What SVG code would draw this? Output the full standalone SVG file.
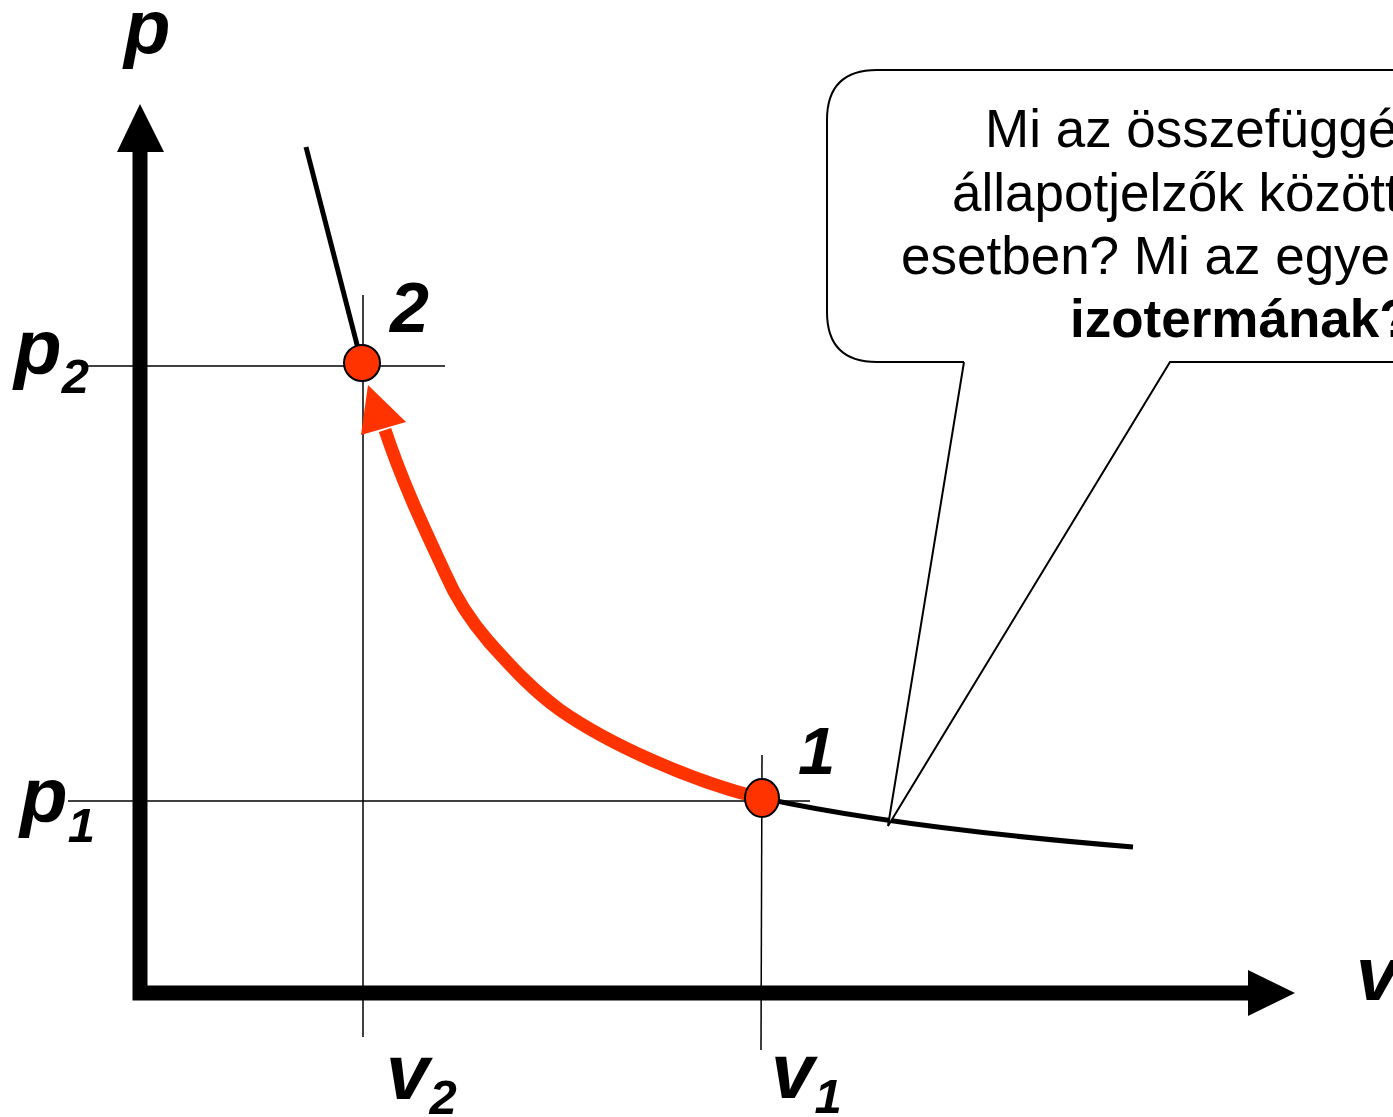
<svg xmlns="http://www.w3.org/2000/svg" width="1393" height="1117" viewBox="0 0 1393 1117">
<style>
.lbl{font-family:"Liberation Sans",Arial,sans-serif;font-weight:bold;font-style:italic;fill:#000}
.txt{font-family:"Liberation Sans",Arial,sans-serif;font-size:53px;fill:#000}
.thin{stroke:#000;stroke-width:1.5;fill:none}
.curve{stroke:#000;stroke-width:5;fill:none}
.pt{fill:#FF3300;stroke:#000;stroke-width:2}
</style>
<rect width="1393" height="1117" fill="#fff"/>
<g id="guides">
<line class="thin" x1="85" y1="366" x2="445" y2="366"/>
<line class="thin" x1="68" y1="801" x2="810" y2="801"/>
<line class="thin" x1="363" y1="295" x2="363" y2="1037"/>
<line class="thin" x1="762" y1="755" x2="761" y2="1050"/>
</g>
<g id="axes">
<path d="M140,150 L140,993 L1250,993" stroke="#000" stroke-width="15" fill="none" stroke-linejoin="miter"/>
<polygon points="140,104 117,152 164,152" fill="#000"/>
<polygon points="1295,993 1248,970 1248,1016" fill="#000"/>
<text class="lbl" x="124" y="53" font-size="76">p</text>
<text class="lbl" x="1356" y="1000" font-size="76">v</text>
</g>
<g id="isotherm">
<line class="curve" x1="306" y1="147" x2="362" y2="364"/>
<path class="curve" d="M762,798 Q900,828 1133,847"/>
</g>
<g id="callout">
<path d="M964,362 L877,362 Q827,362 827,312 L827,120 Q827,70 877,70 L1420,70 L1420,362 L1170,362 L888,826 Z" fill="#fff" stroke="none"/>
<path d="M964,362 L888,826 L1170,362 L1420,362 M964,362 L877,362 Q827,362 827,312 L827,120 Q827,70 877,70 L1420,70" fill="none" stroke="#000" stroke-width="2"/>
<text class="txt" x="985" y="147">Mi az összefüggés</text>
<text class="txt" x="952" y="211">állapotjelzők között</text>
<text class="txt" x="901" y="274">esetben? Mi az egyenlete</text>
<text class="txt" x="1070" y="337" font-weight="bold">izotermának?</text>
</g>
<g id="connectors">
<path d="M756,797 C690,780 610,745 560,710 C530,688 510,665 489,642 C470,620 455,596 445,573 C430,540 405,490 385,430" fill="none" stroke="#FF3300" stroke-width="13"/>
<polygon points="368,385 361,435 406,422" fill="#FF3300"/>
</g>
<g id="point2">
<circle class="pt" cx="362" cy="363" r="18"/>
<text class="lbl" x="390" y="332" font-size="70">2</text>
</g>
<g id="point1">
<ellipse class="pt" cx="762" cy="798" rx="17" ry="19"/>
<text class="lbl" x="798" y="774" font-size="67">1</text>
</g>
<g id="labels">
<text class="lbl" x="14" y="374" font-size="78">p<tspan font-size="49" dy="19">2</tspan></text>
<text class="lbl" x="20" y="822" font-size="78">p<tspan font-size="49" dy="20">1</tspan></text>
<text class="lbl" x="386" y="1099" font-size="78">v<tspan font-size="49" dy="15">2</tspan></text>
<text class="lbl" x="771" y="1098" font-size="78">v<tspan font-size="49" dy="15">1</tspan></text>
</g>
</svg>
